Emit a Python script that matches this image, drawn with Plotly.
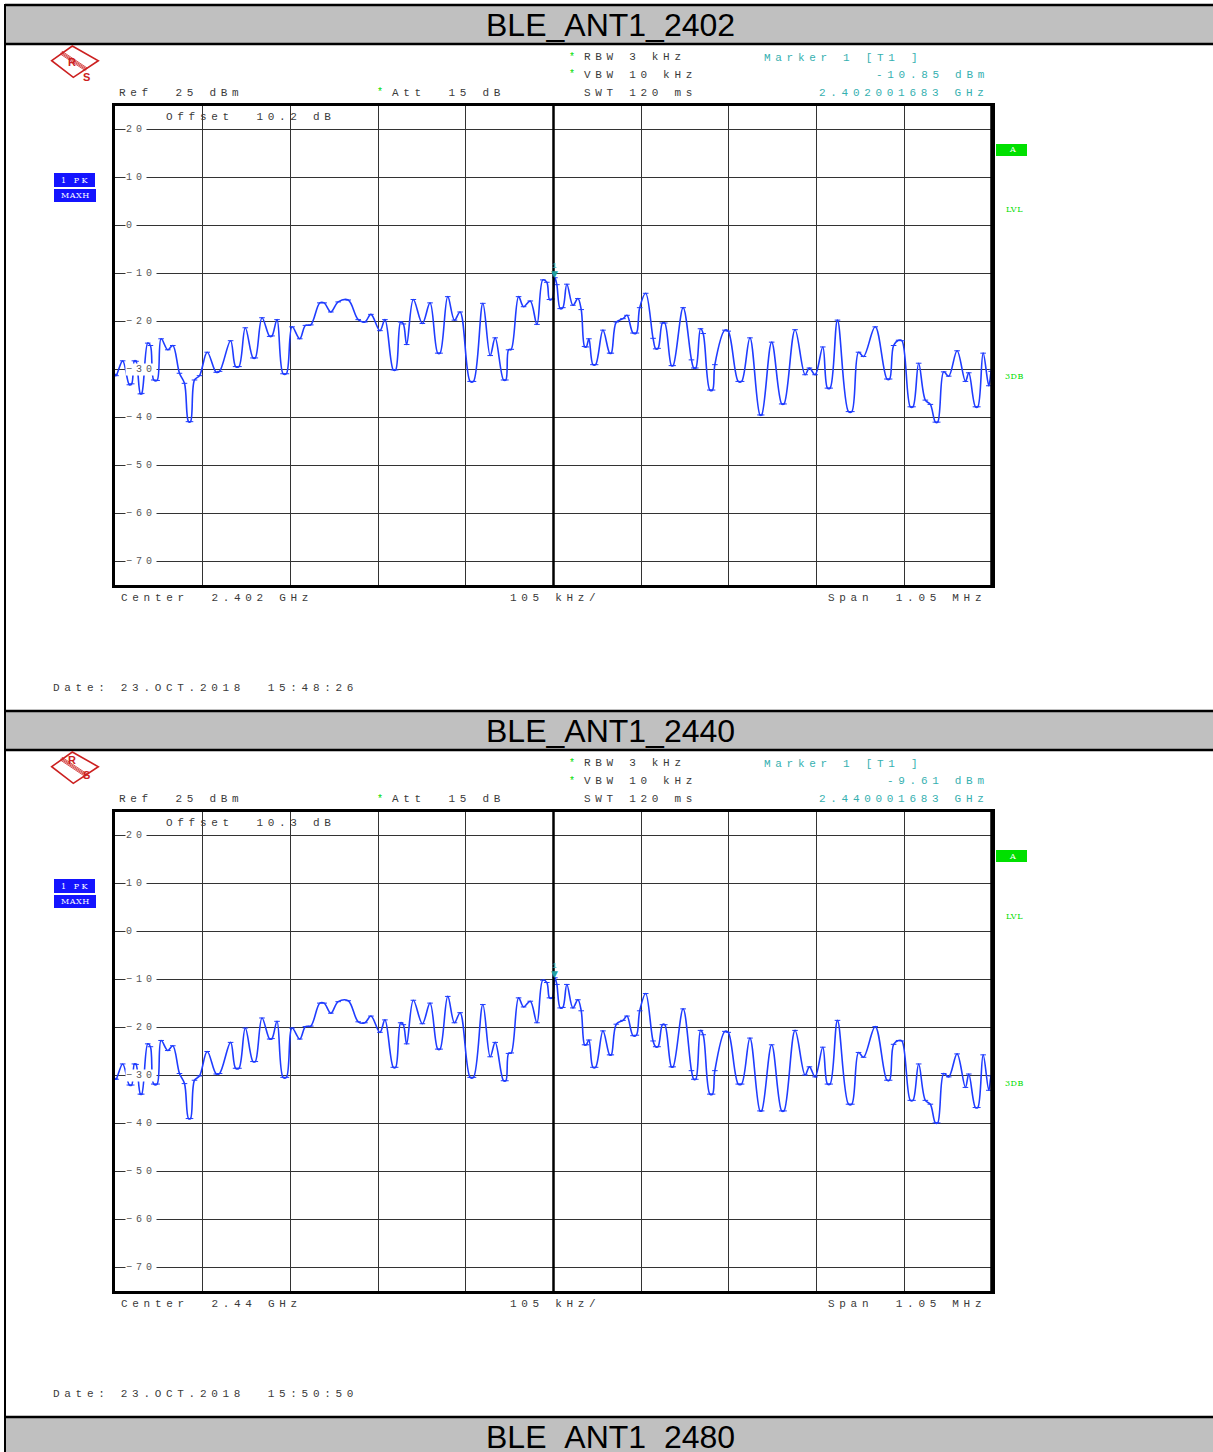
import plotly.graph_objects as go

W, H = 1213, 1452

# ---------------- data ----------------
FREQ_KHZ = [
    -525, -523.8, -515.8, -507.8, -505, -501.8, -499.8, -494.6, -493, -485.8,
    -482.6, -478.6, -474.6, -469.8, -461.8, -455.8, -447.8, -441.8, -437, -434.6,
    -429.8, -423.8, -414.6, -403.8, -399.8, -386.6, -380.6, -376.6, -369, -359.8,
    -357, -349, -339.8, -337, -331, -323.8, -319.8, -313, -303.8, -297,
    -290.6, -279.8, -274.6, -266.6, -257.8, -245.8, -233.8, -225.8, -218.6, -207.8,
    -201.8, -191.8, -189, -183, -179.8, -175.8, -167.8, -157, -147.8, -138.6,
    -135.8, -126.6, -118.6, -111.8, -99.8, -95.8, -84.6, -75.8, -69.8, -59.8,
    -57, -53.8, -50.6, -41.8, -35.8, -27.8, -19.8, -12.8, -8, -4.8,
    -1.5, 1.7, 4.0, 8, 11.2, 16, 23.2, 29.2, 33.2, 37.2,
    39.2, 42.4, 47.2, 50.4, 59.2, 67.2, 69.2, 75.2, 83.2, 88,
    95.2, 99.2, 103.2, 110.4, 119.2, 122.4, 125.2, 130.4, 133.2, 141.2,
    143.2, 155.2, 165.2, 168, 170.4, 176, 179.2, 187.2, 190.4, 193.2,
    205.2, 209.2, 221.2, 225.2, 235.2, 247.2, 249.2, 261.2, 273.2, 276,
    289.2, 301.2, 306.4, 313.2, 322.4, 328, 331.2, 340, 353.2, 357.2,
    365.2, 371.2, 385.2, 399.2, 402.4, 407.2, 413.2, 417.2, 427.2, 430.4,
    437.2, 445.2, 451.2, 457.2, 460, 467.2, 473.2, 483.2, 493.2, 497.2,
    505.2, 508, 514.4, 521.2, 524, 525,
]

LEVEL_2402 = [
    -31.0, -31.3, -28.2, -33.2, -33.0, -28.2, -28.3, -35.1, -35.0, -24.5,
    -25.0, -32.2, -32.3, -23.6, -25.9, -25.0, -30.8, -32.9, -40.9, -40.9,
    -32.2, -31.3, -26.4, -30.6, -30.4, -24.0, -29.4, -29.4, -21.3, -27.6,
    -27.6, -19.2, -23.1, -23.0, -19.6, -30.9, -30.9, -21.1, -23.6, -20.8,
    -20.7, -16.1, -16.1, -18.0, -15.9, -15.5, -19.6, -20.1, -18.5, -21.9,
    -19.6, -30.1, -30.1, -20.1, -20.5, -24.8, -15.4, -20.4, -16.1, -26.6,
    -26.6, -14.8, -19.7, -18.0, -32.5, -32.5, -16.2, -27.1, -23.4, -32.2,
    -32.2, -25.9, -25.8, -14.8, -16.9, -15.7, -20.6, -11.3, -11.8, -15.4,
    -15.3, -10.85, -12.3, -17.3, -17.1, -12.2, -16.6, -15.2, -17.5, -25.2,
    -25.3, -23.6, -29.0, -29.0, -21.8, -26.6, -26.6, -20.1, -19.4, -18.7,
    -22.4, -22.4, -17.1, -14.1, -23.5, -25.7, -25.6, -20.3, -20.3, -29.2,
    -29.2, -17.1, -28.0, -29.7, -29.7, -21.5, -22.5, -34.3, -34.3, -29.0,
    -21.8, -22.0, -32.5, -32.5, -23.4, -39.5, -39.5, -24.3, -37.2, -37.2,
    -21.7, -31.1, -29.7, -31.1, -25.3, -33.9, -33.9, -19.7, -38.8, -38.8,
    -26.4, -27.3, -21.1, -32.0, -32.0, -25.0, -23.9, -24.0, -37.8, -37.8,
    -28.7, -36.4, -37.3, -41.0, -41.0, -30.5, -31.4, -26.1, -32.5, -30.7,
    -37.8, -37.8, -26.6, -33.4, -30.4, -30.0,
]

LEVEL_2440 = [
    -30.6, -30.8, -27.6, -32.0, -32.0, -27.6, -27.7, -33.9, -33.9, -23.4,
    -24.0, -31.8, -31.8, -22.7, -24.8, -23.8, -29.6, -31.7, -39.0, -39.0,
    -31.0, -30.1, -25.0, -29.7, -29.6, -23.1, -28.5, -28.5, -20.1, -27.1,
    -27.1, -18.0, -22.4, -22.3, -18.7, -30.4, -30.4, -20.1, -22.4, -19.8,
    -19.7, -14.9, -14.9, -17.0, -14.6, -14.4, -18.8, -19.0, -17.6, -21.0,
    -18.4, -28.3, -28.3, -19.0, -19.4, -23.4, -14.3, -19.2, -14.9, -24.5,
    -24.5, -13.5, -19.0, -16.9, -30.4, -30.4, -15.2, -26.1, -23.1, -31.1,
    -31.1, -25.4, -25.3, -13.8, -15.7, -14.5, -19.0, -10.1, -10.6, -13.8,
    -13.8, -9.61, -11.0, -15.9, -15.8, -11.0, -15.9, -14.2, -16.5, -23.6,
    -23.6, -22.6, -28.3, -28.3, -20.7, -25.7, -25.7, -19.3, -18.5, -17.6,
    -21.7, -21.6, -16.5, -12.9, -22.8, -24.0, -24.0, -19.4, -19.4, -28.2,
    -28.2, -16.1, -29.0, -30.8, -30.8, -20.6, -21.5, -33.9, -33.9, -29.0,
    -20.8, -21.0, -31.8, -31.8, -22.2, -37.4, -37.4, -23.6, -37.4, -37.4,
    -20.6, -29.9, -28.2, -30.3, -24.1, -31.8, -31.8, -18.5, -36.0, -36.0,
    -25.2, -26.2, -19.8, -31.0, -31.0, -23.5, -22.7, -22.8, -35.2, -35.2,
    -27.6, -35.2, -36.0, -39.9, -39.9, -29.6, -30.3, -25.5, -32.5, -29.7,
    -36.7, -36.7, -25.7, -33.1, -30.1, -30.0,
]

TITLES = ["BLE_ANT1_2402", "BLE_ANT1_2440", "BLE_ANT1_2480"]
CENTER_LABELS = ["2.402 GHz", "2.44 GHz"]
OFFSET_DB = ["10.2", "10.3"]
MARKER_FREQ_KHZ = 1.683
MARKER_LEVELS = [-10.85, -9.61]
MARKER_FREQ_LABELS = ["2.402001683 GHz", "2.440001683 GHz"]
DATES = ["23.OCT.2018  15:48:26", "23.OCT.2018  15:50:50"]
Y_TICKS = [20, 10, 0, -10, -20, -30, -40, -50, -60, -70]
REF_DBM = 25
SPAN_KHZ = 1050
DIV_KHZ = 105

# ---------------- helpers ----------------
def px(x):
    return x / W

def py(y):
    return 1 - y / H

NB = "\u00a0"
LS = 4.7
FS = 11
MONO = "Liberation Mono, DejaVu Sans Mono, monospace"
GRAY = "#3a3a3a"
CYAN = "#35b0b0"
GREEN = "#00dd00"
BLUE_TR = "#1f3cff"


def spaced(s, ls=LS):
    return '<span style="letter-spacing:%spx">%s</span>' % (ls, s.replace(" ", NB))


annotations = []
shapes = []


def txt(x, y, s, color=GRAY, size=FS, anchor="left", ls=LS, family=MONO):
    xs = ls if anchor == "right" else 0
    annotations.append(dict(
        x=px(x), y=py(y), xref="paper", yref="paper", text=spaced(s, ls),
        showarrow=False, xanchor=anchor, yanchor="middle",
        font=dict(family=family, size=size, color=color), xshift=xs))


def rect(x0, y0, x1, y1, fill, layer="below"):
    shapes.append(dict(type="rect", xref="paper", yref="paper",
                       x0=px(x0), x1=px(x1), y0=py(y0), y1=py(y1),
                       fillcolor=fill, line=dict(color=fill, width=0), layer=layer))


def hline(x0, x1, y, color="black", w=2):
    shapes.append(dict(type="line", xref="paper", yref="paper",
                       x0=px(x0), x1=px(x1), y0=py(y), y1=py(y),
                       line=dict(color=color, width=w)))


def vline(x, y0, y1, color="black", w=2):
    shapes.append(dict(type="line", xref="paper", yref="paper",
                       x0=px(x), x1=px(x), y0=py(y0), y1=py(y1),
                       line=dict(color=color, width=w)))


fig = go.Figure()

# ---------------- table frame / headers ----------------
HEADER_TOPS = [5, 711, 1417]
for i, top in enumerate(HEADER_TOPS):
    bot = top + 39
    rect(5, top, 1216, min(bot, 1460), "#c0c0c0")
    hline(5, 1216, top, w=2.5)
    if bot < H:
        hline(5, 1216, bot, w=2.5)
    annotations.append(dict(
        x=px(610), y=py(top + 20), xref="paper", yref="paper", text=TITLES[i],
        showarrow=False, xanchor="center", yanchor="middle",
        font=dict(family="Liberation Sans, Arial, sans-serif", size=32, color="black")))
vline(5, 4, H + 5, w=2)

# ---------------- panels ----------------
PLOT_LEFT, PLOT_RIGHT = 115, 992
PLOT_TOP, PLOT_BOTTOM = 106, 585
OFF = 706
levels = [LEVEL_2402, LEVEL_2440]

for i in range(2):
    o = OFF * i
    sfx = "" if i == 0 else str(i + 1)
    xa, ya = "x" + sfx, "y" + sfx
    axis_common = dict(showgrid=True, gridcolor="#333333", gridwidth=1.4,
                       showline=True, mirror=True, linecolor="black", linewidth=2.5,
                       showticklabels=False, ticks="", zeroline=False, fixedrange=True)
    fig.update_layout(**{
        "xaxis" + sfx: dict(domain=[px(PLOT_LEFT), px(PLOT_RIGHT)],
                            range=[-SPAN_KHZ / 2, SPAN_KHZ / 2], tick0=0, dtick=DIV_KHZ,
                            anchor=ya, **axis_common),
        "yaxis" + sfx: dict(domain=[py(PLOT_BOTTOM + o), py(PLOT_TOP + o)],
                            range=[REF_DBM - 100, REF_DBM], tick0=0, dtick=10,
                            anchor=xa, **axis_common),
    })
    shapes.append(dict(type="line", xref=xa, yref=ya + " domain", x0=0, x1=0, y0=0, y1=1,
                       line=dict(color="black", width=2.5)))
    shapes.append(dict(type="line", xref=xa, yref=ya + " domain",
                       x0=SPAN_KHZ / 2, x1=SPAN_KHZ / 2, y0=0, y1=1,
                       line=dict(color="black", width=3.5)))

    fig.add_trace(go.Scatter(
        x=FREQ_KHZ, y=levels[i], xaxis=xa, yaxis=ya, mode="lines+markers",
        line=dict(color=BLUE_TR, width=1.6, shape="spline", smoothing=1.0),
        marker=dict(symbol="line-ew", size=4, color=BLUE_TR,
                    line=dict(color=BLUE_TR, width=1)),
        showlegend=False, hoverinfo="skip"))

    for v in Y_TICKS:
        annotations.append(dict(
            x=px(125), y=v, xref="paper", yref=ya,
            text=spaced(str(v).replace("-", "\u2212"), 4.0),
            showarrow=False, xanchor="left", yanchor="middle", bgcolor="white", borderpad=0,
            font=dict(family=MONO, size=10, color="#555555")))

    # marker 1
    annotations.append(dict(x=MARKER_FREQ_KHZ, y=MARKER_LEVELS[i], xref=xa, yref=ya,
                            text="\u25BC", showarrow=False, yanchor="bottom", yshift=-3,
                            font=dict(family="DejaVu Sans", size=9, color="#22a0a0")))
    annotations.append(dict(x=MARKER_FREQ_KHZ, y=MARKER_LEVELS[i], xref=xa, yref=ya,
                            text="1", showarrow=False, yanchor="bottom", yshift=6,
                            font=dict(family=MONO, size=8, color=CYAN)))

    for (sx, sy) in [(572, 57 + o), (572, 75 + o), (380, 93 + o)]:
        annotations.append(dict(x=px(sx), y=py(sy), xref="paper", yref="paper", text="*",
                                showarrow=False, xanchor="center", yanchor="middle",
                                font=dict(family=MONO, size=10, color=GREEN)))
    txt(582, 57 + o, "RBW 3 kHz")
    txt(582, 75 + o, "VBW 10 kHz")
    txt(582, 93 + o, "SWT 120 ms")
    txt(117, 93 + o, "Ref  25 dBm")
    txt(390, 93 + o, "Att  15 dB")
    txt(762, 58 + o, "Marker 1 [T1 ]", color=CYAN)
    txt(986, 75 + o, "%.2f dBm" % MARKER_LEVELS[i], color=CYAN, anchor="right")
    txt(986, 93 + o, MARKER_FREQ_LABELS[i], color=CYAN, anchor="right")
    txt(164, 117 + o, "Offset  %s dB" % OFFSET_DB[i])
    txt(119, 598 + o, "Center  " + CENTER_LABELS[i])
    txt(508, 598 + o, "%d kHz/" % DIV_KHZ)
    txt(983, 598 + o, "Span  %.2f MHz" % (SPAN_KHZ / 1000), anchor="right")
    txt(51, 688 + o, "Date: " + DATES[i])

    # left status boxes
    rect(54, 173 + o, 95, 187 + o, "#1414ff")
    rect(54, 189 + o, 96, 202 + o, "#1414ff")
    annotations.append(dict(x=px(75), y=py(180 + o), xref="paper", yref="paper",
                            text=spaced("1 PK", 2.5), showarrow=False, xanchor="center",
                            yanchor="middle", font=dict(family="DejaVu Serif", size=8, color="white")))
    annotations.append(dict(x=px(75), y=py(195.5 + o), xref="paper", yref="paper",
                            text=spaced("MAXH", 0.5), showarrow=False, xanchor="center",
                            yanchor="middle", font=dict(family="DejaVu Serif", size=8, color="white")))

    # right green indicators
    rect(996, 144 + o, 1027, 156 + o, "#00e000")
    annotations.append(dict(x=px(1012), y=py(150 + o), xref="paper", yref="paper",
                            text="A", showarrow=False, xanchor="center", yanchor="middle",
                            font=dict(family="DejaVu Serif", size=8, color="white")))
    for lab, yy in [("LVL", 210), ("3DB", 377)]:
        annotations.append(dict(x=px(1014), y=py(yy + o), xref="paper", yref="paper",
                                text=spaced(lab, 0.5), showarrow=False, xanchor="center",
                                yanchor="middle",
                                font=dict(family="DejaVu Serif", size=8, color=GREEN)))

    # R&S logo
    L, T, R, B = (51.7, 60.7 + o), (72.3, 46 + o), (98.3, 60.7 + o), (73.3, 77.3 + o)
    path = "M %f,%f L %f,%f L %f,%f L %f,%f Z" % (
        px(L[0]), py(L[1]), px(T[0]), py(T[1]), px(R[0]), py(R[1]), px(B[0]), py(B[1]))
    shapes.append(dict(type="path", xref="paper", yref="paper", path=path,
                       line=dict(color="#cc2020", width=1.6)))
    for d in (-1.6, -0.5, 0.5, 1.6):
        shapes.append(dict(type="line", xref="paper", yref="paper",
                           x0=px(61 + d * 0.6), y0=py(52.5 - d * 0.8 + o),
                           x1=px(86.5 + d * 0.6), y1=py(69.5 - d * 0.8 + o),
                           line=dict(color="#cc2020", width=0.8)))
    annotations.append(dict(x=px(66), y=py(54 + o), xref="paper", yref="paper", text="<b>R</b>",
                            showarrow=False, font=dict(family="Liberation Sans", size=11, color="#cc2020")))
    annotations.append(dict(x=px(81), y=py(69 + o), xref="paper", yref="paper", text="<b>S</b>",
                            showarrow=False, font=dict(family="Liberation Sans", size=11, color="#cc2020")))

fig.update_layout(
    width=W, height=H, margin=dict(l=0, r=0, t=0, b=0),
    paper_bgcolor="white", plot_bgcolor="white",
    annotations=annotations, shapes=shapes, showlegend=False,
)

fig.write_html("out.html", config={"displayModeBar": False},
               post_script="document.body.style.margin='0px';document.body.style.padding='0px';")
